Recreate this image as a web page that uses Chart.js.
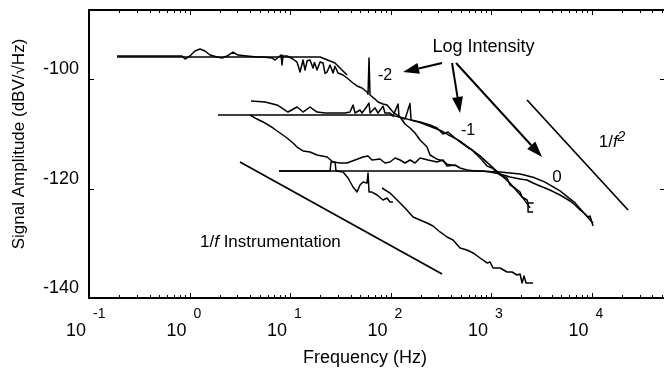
<!DOCTYPE html>
<html><head><meta charset="utf-8">
<script src="https://cdn.jsdelivr.net/npm/chart.js@4/dist/chart.umd.min.js"></script>
<style>
html,body{margin:0;padding:0;background:#fff;overflow:hidden;width:664px;height:373px}
#wrap{position:relative;width:672px;height:373px;background:#fff}
canvas{display:block}
</style></head>
<body><div id="wrap"><canvas id="c" width="672" height="373" style="width:672px;height:373px"></canvas></div>
<script>
// ---------- DATA (frequency in Hz, amplitude in dBV/sqrt(Hz)) ----------
const xTickExponents = [-1, 0, 1, 2, 3, 4];
const yTickValues = [-140, -120, -100];

// Log intensity -2 : measured spectrum
const freqM2 = [0.19, 0.842, 0.902, 1.01, 1.134, 1.272, 1.426, 1.60, 1.877, 2.106, 2.362, 2.71, 3.038, 3.734, 4.695, 5.387, 6.62, 7.09, 8.14, 8.32, 8.52, 9.34, 10.71, 11.74, 12.58, 13.47, 14.11, 14.8, 15.81, 16.94, 17.5, 18.57, 19.89, 21.3, 22.3, 23.35, 25.0, 26.8, 28.0, 30.04, 33.69, 36.93, 42.37, 46.42, 52.05, 58.38, 59.73, 61.1, 62.52, 70.12, 75.1, 84.2, 92.3, 105.9, 124.3, 139.4, 156.3, 175.3, 196.6, 230.8, 247.2, 290.1, 333.0, 365.0, 438.4];
const ampM2  = [-95.72, -95.72, -96.27, -95.72, -94.8, -94.44, -94.8, -95.54, -95.9, -96.08, -95.72, -94.99, -95.54, -95.72, -95.9, -95.9, -96.08, -96.45, -95.54, -97.37, -95.72, -95.72, -96.27, -96.82, -98.65, -96.45, -98.3, -96.6, -96.45, -97.91, -96.9, -98.28, -96.82, -97.0, -98.9, -98.65, -97.37, -98.83, -97.6, -98.83, -99.19, -99.74, -100.66, -101.2, -101.57, -102.31, -102.7, -96.08, -102.85, -103.6, -104.14, -104.5, -104.68, -105.97, -106.88, -108.16, -108.89, -109.8, -111.09, -112.37, -113.83, -114.6, -114.9, -115.5, -115.8];
// Log intensity -2 : fit
const freqM2fit = [0.19, 19.9, 28.0, 36.9];
const ampM2fit  = [-95.9, -95.9, -97.0, -99.2];

// Log intensity -1 : measured spectrum
const freqM1 = [4.09, 5.639, 7.42, 9.55, 11.74, 13.47, 15.81, 18.57, 22.3, 30.04, 35.27, 39.54, 42.37, 44.36, 49.72, 52.05, 58.38, 61.1, 62.52, 70.12, 75.1, 84.2, 88.17, 98.86, 105.9, 118.8, 121.5, 139.4, 156.3, 160, 196.6, 247.2, 290.1, 333.0, 373.4, 438.4, 491.5, 577, 647.1, 813.8, 912.7, 1023, 1229, 1443, 1546, 1733, 1944, 2035, 2282, 2335, 2618, 2335, 2335, 2618];
const ampM1  = [-103.95, -104.14, -104.68, -105.97, -105.05, -105.97, -105.05, -105.97, -106.15, -106.15, -106.15, -105.97, -104.68, -106.15, -105.6, -106.15, -104.9, -104.32, -106.15, -105.2, -106.15, -104.9, -106.15, -106.15, -106.7, -104.5, -106.88, -107.25, -104.4, -107.43, -107.79, -108.34, -108.89, -110.0, -109.62, -110.72, -111.45, -112.37, -112.92, -114.75, -115.85, -116.21, -117.49, -118.04, -119.32, -119.87, -120.61, -121.52, -122.07, -122.6, -122.6, -122.6, -124.26, -124.26];
// Log intensity -1 : fit
const freqM1fit = [1.921, 98.86, 124.3, 196.6, 310.8, 491.5, 777.4, 1023, 1546, 2035, 2445];
const ampM1fit  = [-106.51, -106.51, -106.9, -107.9, -109.3, -111.3, -114.0, -116.0, -119.0, -121.5, -123.5];

// Log intensity 0 : measured spectrum
const freq0 = [4.0, 4.695, 5.387, 6.32, 6.77, 7.95, 9.34, 10.71, 11.74, 13.47, 15.81, 18.57, 23.35, 26.8, 31.44, 36.93, 44.36, 53.26, 59.73, 65.45, 78.62, 88.17, 98.86, 110.9, 124.3, 139.4, 156.3, 175.3, 196.6, 236.2, 290.1, 333.0, 365.0, 438.4, 491.5, 577, 693.2, 813.8, 977.2, 1229, 1546, 1944, 2282, 2618, 3073, 3446, 4046, 4860, 5448, 6112, 6855, 7686, 8616, 9230, 9663, 10350];
const amp0  = [-106.51, -107.25, -107.79, -108.53, -108.89, -109.81, -110.72, -111.64, -112.37, -113.1, -113.28, -113.83, -114.2, -115.11, -115.3, -115.3, -114.75, -114.2, -114.02, -114.75, -114.57, -115.3, -115.11, -114.38, -114.75, -115.3, -114.75, -115.3, -114.38, -114.75, -115.11, -114.75, -115.85, -115.66, -116.21, -116.58, -116.76, -116.76, -116.94, -117.31, -117.86, -118.22, -118.41, -118.96, -119.5, -119.87, -120.43, -121.15, -121.7, -122.25, -122.98, -123.9, -124.63, -125.18, -125.0, -126.83];
// Log intensity 0 : fit
const freq0fit = [7.77, 777.4, 1229, 1944, 2618, 3446, 4860, 6855, 10350];
const amp0fit  = [-116.76, -116.76, -116.94, -117.3, -117.9, -118.8, -120.4, -122.6, -126.3];

// Instrumentation (dark) spectrum, low and high frequency segments
const freqDarkLo = [7.77, 25.0, 25.6, 28.04, 28.7, 33.69, 37.78, 42.37, 46.42, 49.72, 53.26, 58.38, 59.73, 61.1, 65.45, 73.4, 84.2, 92.3, 98.86, 105.9];
const ampDarkLo  = [-116.76, -116.76, -115.11, -115.11, -116.76, -116.94, -118.04, -119.69, -120.61, -119.32, -118.77, -118.96, -117.13, -120.61, -120.61, -121.15, -122.07, -121.7, -122.43, -122.43];
const freqDarkHi = [82.3, 98.86, 116.1, 139.4, 167.5, 196.6, 230.8, 264.8, 310.8, 365.0, 418.8, 491.5, 577, 662.1, 777.4, 912.7, 977.2, 1047, 1229, 1443, 1618, 1814, 1944, 2035, 2130, 2230, 2618];
const ampDarkHi  = [-119.87, -120.79, -122.07, -123.53, -125.18, -125.73, -126.28, -126.83, -127.92, -128.84, -129.39, -130.85, -131.21, -131.76, -132.68, -133.59, -133.41, -134.51, -134.51, -135.24, -135.24, -135.79, -135.61, -137.26, -135.97, -137.26, -137.26];

// Reference slopes
const freqRef1f = [3.18, 325.4];
const ampRef1f  = [-115.11, -135.61];
const freqRef1f2 = [2282, 23080];
const ampRef1f2  = [-103.77, -123.9];

// ---------- ANNOTATIONS (data coordinates) ----------
const arrows = [
  {from: [325.4, -97.0], to: [133.2, -98.65]},
  {from: [409.3, -97.0], to: [491.5, -106.15]},
  {from: [448.6, -97.0], to: [3218, -114.2]}
];

const FONT = '"Liberation Sans", Arial, Helvetica, sans-serif';

function zip(xs, ys) { return xs.map((x, i) => ({x: x, y: ys[i]})); }
function ds(xs, ys, w) {
  return {data: zip(xs, ys), borderColor: '#000', borderWidth: w || 1.5, pointRadius: 0, fill: false, tension: 0, borderJoinStyle: 'round'};
}

function runsWidth(ctx, runs) {
  let w = 0;
  runs.forEach(r => { ctx.font = r.font; w += ctx.measureText(r.t).width; });
  return w;
}
function drawRuns(ctx, x, y, runs) {
  let cx = x;
  runs.forEach(r => {
    ctx.font = r.font;
    ctx.fillText(r.t, cx, y + (r.dy || 0));
    cx += ctx.measureText(r.t).width;
  });
}

const framePlugin = {
  id: 'frame',
  afterDatasetsDraw(chart) {
    const ctx = chart.ctx, a = chart.chartArea, xs = chart.scales.x, ys = chart.scales.y;
    ctx.save();
    ctx.strokeStyle = '#000';
    ctx.fillStyle = '#000';
    ctx.lineWidth = 2;
    ctx.strokeRect(a.left, a.top, a.right - a.left, a.bottom - a.top);

    // x ticks (inward, bottom and top)
    ctx.lineWidth = 1;
    xTickExponents.forEach(e => {
      for (let m = 1; m <= 9; m++) {
        const v = m * Math.pow(10, e);
        if (v < xs.min * 0.999 || v > xs.max) continue;
        const px = Math.round(xs.getPixelForValue(v)) + 0.5;
        const len = m === 1 ? 5 : 3;
        ctx.beginPath();
        ctx.moveTo(px, a.bottom); ctx.lineTo(px, a.bottom - len);
        ctx.moveTo(px, a.top); ctx.lineTo(px, a.top + len);
        ctx.stroke();
      }
    });
    // y ticks (inward, left and right)
    ctx.lineWidth = 1.2;
    yTickValues.forEach(v => {
      const py = Math.round(ys.getPixelForValue(v)) + 0.5;
      ctx.beginPath();
      ctx.moveTo(a.left, py); ctx.lineTo(a.left + 5, py);
      ctx.moveTo(a.right, py); ctx.lineTo(a.right - 5, py);
      ctx.stroke();
    });

    // x tick labels: 10 with superscript exponent
    xTickExponents.forEach(e => {
      const px = xs.getPixelForValue(Math.pow(10, e));
      ctx.font = '18px ' + FONT;
      ctx.textAlign = 'right';
      ctx.textBaseline = 'alphabetic';
      ctx.fillText('10', px - 3, a.bottom + 37.5);
      ctx.font = '14px ' + FONT;
      ctx.textAlign = 'left';
      ctx.fillText(String(e), px + 4, a.bottom + 20);
    });
    // y tick labels
    ctx.font = '18px ' + FONT;
    ctx.textAlign = 'right';
    yTickValues.forEach(v => {
      const py = ys.getPixelForValue(v);
      ctx.fillText(String(v), a.left - 10, py - 5);
    });

    // axis titles
    ctx.textAlign = 'center';
    ctx.font = '18px ' + FONT;
    ctx.fillText('Frequency (Hz)', a.left + 276, a.bottom + 65);
    ctx.save();
    ctx.translate(24, a.top + 134);
    ctx.rotate(-Math.PI / 2);
    ctx.font = '17px ' + FONT;
    ctx.fillText('Signal Amplitude (dBV/\u221AHz)', 0, 0);
    ctx.restore();

    // arrows
    arrows.forEach(ar => {
      const x1 = xs.getPixelForValue(ar.from[0]), y1 = ys.getPixelForValue(ar.from[1]);
      const x2 = xs.getPixelForValue(ar.to[0]), y2 = ys.getPixelForValue(ar.to[1]);
      const ang = Math.atan2(y2 - y1, x2 - x1);
      const hl = 16, hw = 5.5;
      const bx = x2 - hl * Math.cos(ang), by = y2 - hl * Math.sin(ang);
      ctx.lineWidth = 2;
      ctx.beginPath(); ctx.moveTo(x1, y1); ctx.lineTo(bx, by); ctx.stroke();
      ctx.beginPath();
      ctx.moveTo(x2, y2);
      ctx.lineTo(bx + hw * Math.sin(ang), by - hw * Math.cos(ang));
      ctx.lineTo(bx - hw * Math.sin(ang), by + hw * Math.cos(ang));
      ctx.closePath(); ctx.fill();
    });

    // text annotations
    ctx.textAlign = 'left';
    const reg = '17px ' + FONT, ital = 'italic 17px ' + FONT;
    const centered = (fx, fy, runs) => {
      const w = runsWidth(ctx, runs);
      drawRuns(ctx, xs.getPixelForValue(fx) - w / 2, ys.getPixelForValue(fy), runs);
    };
    centered(842, -94.99, [{t: 'Log Intensity', font: '18px ' + FONT}]);
    centered(88.17, -100.11, [{t: '-2', font: '16px ' + FONT}]);
    centered(590.3, -110.17, [{t: '-1', font: '16px ' + FONT}]);
    centered(4537, -118.77, [{t: '0', font: '17px ' + FONT}]);
    centered(16000, -112.37, [{t: '1/', font: reg}, {t: 'f', font: ital}, {t: '2', font: 'italic 14px ' + FONT, dy: -6}]);
    drawRuns(ctx, xs.getPixelForValue(1.272), ys.getPixelForValue(-130.67),
      [{t: '1/', font: reg}, {t: 'f', font: ital}, {t: ' Instrumentation', font: reg}]);
    ctx.restore();
  }
};

new Chart(document.getElementById('c'), {
  type: 'line',
  data: {
    datasets: [
      ds(freqM2, ampM2), ds(freqM2fit, ampM2fit),
      ds(freqM1, ampM1), ds(freqM1fit, ampM1fit),
      ds(freq0, amp0), ds(freq0fit, amp0fit),
      ds(freqDarkLo, ampDarkLo), ds(freqDarkHi, ampDarkHi),
      ds(freqRef1f, ampRef1f, 1.7), ds(freqRef1f2, ampRef1f2, 1.7)
    ]
  },
  options: {
    responsive: false,
    devicePixelRatio: 1,
    animation: false,
    events: [],
    layout: {padding: {left: 89, top: 10, right: 7, bottom: 75}},
    plugins: {legend: {display: false}, tooltip: {enabled: false}},
    scales: {
      x: {type: 'logarithmic', display: false, min: 0.1, max: 53800},
      y: {type: 'linear', display: false, min: -140, max: -87.3}
    }
  },
  plugins: [framePlugin]
});
</script>
</body></html>
